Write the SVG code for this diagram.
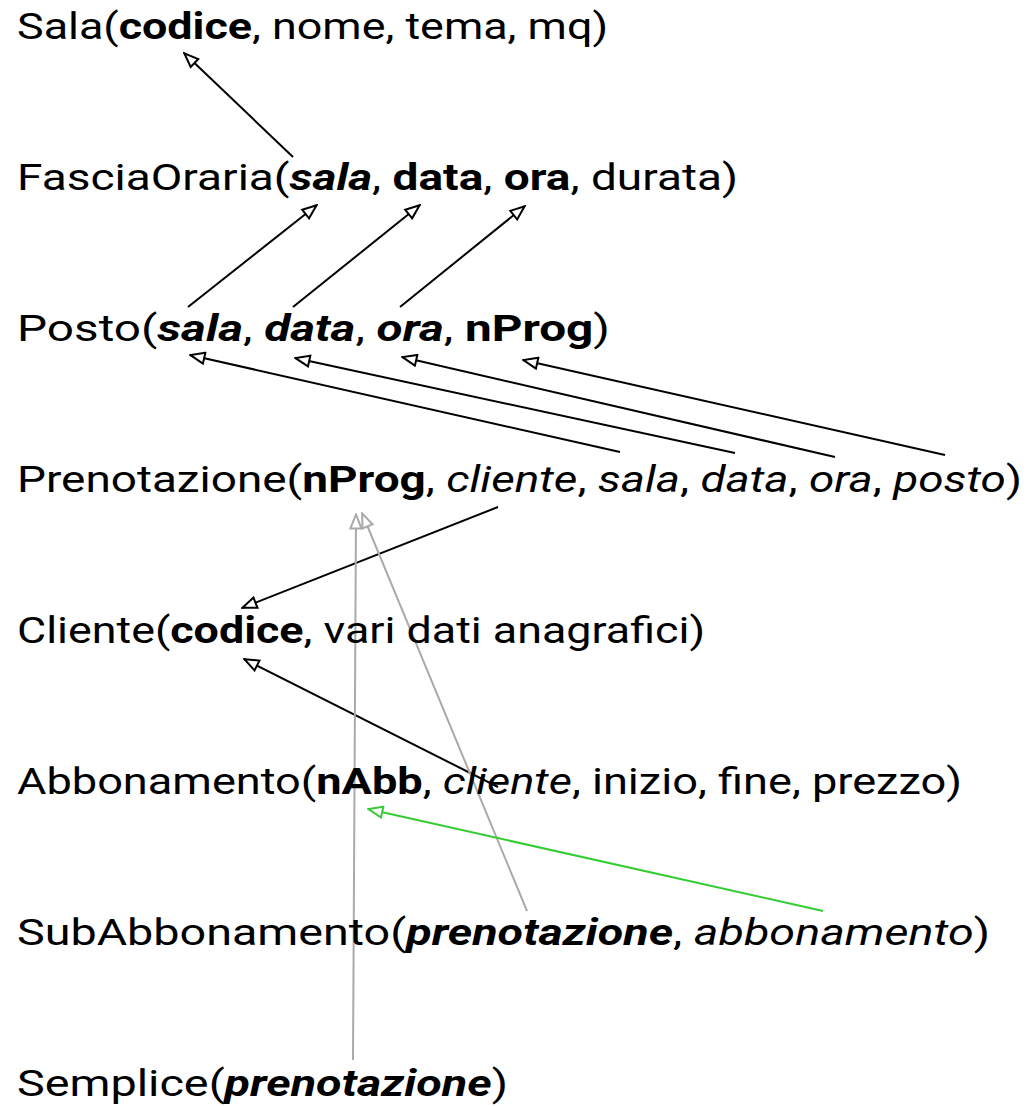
<svg xmlns="http://www.w3.org/2000/svg" width="1035" height="1106" viewBox="0 0 1035 1106">
<style>
text{font-family:Roboto,"Liberation Sans",sans-serif;font-size:36px;fill:#000}
.k{font-weight:bold}
.i{font-style:italic}
.ki{font-weight:bold;font-style:italic}
.c{stroke:#000;stroke-width:2;fill:none}
.g{stroke:#aaaaaa;stroke-width:2;fill:none}
.gr{stroke:#33cc33;stroke-width:2;fill:none}
</style>
<defs>
<marker id="a" viewBox="0 0 17 14" refX="16" refY="7" markerWidth="17" markerHeight="14" markerUnits="userSpaceOnUse" orient="auto"><path d="M1.5,1.5 L15.5,7 L1.5,12.5 z" fill="#fff" stroke="#000" stroke-width="2"/></marker>
<marker id="ag" viewBox="0 0 17 14" refX="16" refY="7" markerWidth="17" markerHeight="14" markerUnits="userSpaceOnUse" orient="auto"><path d="M1.5,1.5 L15.5,7 L1.5,12.5 z" fill="#fff" stroke="#aaaaaa" stroke-width="2"/></marker>
<marker id="agr" viewBox="0 0 17 14" refX="16" refY="7" markerWidth="17" markerHeight="14" markerUnits="userSpaceOnUse" orient="auto"><path d="M1.5,1.5 L15.5,7 L1.5,12.5 z" fill="#fff" stroke="#33cc33" stroke-width="2"/></marker>
</defs>
<g id="connectors">
<line class="c" x1="293" y1="157" x2="184" y2="53" marker-end="url(#a)"/>
<line class="c" x1="188" y1="307" x2="317" y2="205" marker-end="url(#a)"/>
<line class="c" x1="293" y1="307" x2="420" y2="205" marker-end="url(#a)"/>
<line class="c" x1="400" y1="307" x2="525" y2="206" marker-end="url(#a)"/>
<line class="c" x1="620" y1="452" x2="190" y2="355" marker-end="url(#a)"/>
<line class="c" x1="735" y1="453" x2="295" y2="358" marker-end="url(#a)"/>
<line class="c" x1="835" y1="457" x2="402" y2="357" marker-end="url(#a)"/>
<line class="c" x1="945" y1="455" x2="523" y2="360" marker-end="url(#a)"/>
<line class="c" x1="498" y1="507" x2="242" y2="608" marker-end="url(#a)"/>
<line class="c" x1="498" y1="787" x2="244" y2="659" marker-end="url(#a)"/>
<line class="g" x1="353" y1="1060" x2="356" y2="514" marker-end="url(#ag)"/>
<line class="g" x1="527" y1="911" x2="362" y2="513" marker-end="url(#ag)"/>
<line class="gr" x1="823" y1="911" x2="368" y2="809" marker-end="url(#agr)"/>
</g>
<g id="Sala"><text x="17" y="39" textLength="591" lengthAdjust="spacingAndGlyphs">Sala(<tspan class="k">codice</tspan>, nome, tema, mq)</text></g>
<g id="FasciaOraria"><text x="17" y="190" textLength="721" lengthAdjust="spacingAndGlyphs">FasciaOraria(<tspan class="ki">sala</tspan>, <tspan class="k">data</tspan>, <tspan class="k">ora</tspan>, durata)</text></g>
<g id="Posto"><text x="17" y="341" textLength="593" lengthAdjust="spacingAndGlyphs">Posto(<tspan class="ki">sala</tspan>, <tspan class="ki">data</tspan>, <tspan class="ki">ora</tspan>, <tspan class="k">nProg</tspan>)</text></g>
<g id="Prenotazione"><text x="17" y="492" textLength="1005" lengthAdjust="spacingAndGlyphs">Prenotazione(<tspan class="k">nProg</tspan>, <tspan class="i">cliente</tspan>, <tspan class="i">sala</tspan>, <tspan class="i">data</tspan>, <tspan class="i">ora</tspan>, <tspan class="i">posto</tspan>)</text></g>
<g id="Cliente"><text x="17" y="643" textLength="688" lengthAdjust="spacingAndGlyphs">Cliente(<tspan class="k">codice</tspan>, vari dati anagrafici)</text></g>
<g id="Abbonamento"><text x="17" y="794" textLength="945" lengthAdjust="spacingAndGlyphs">Abbonamento(<tspan class="k">nAbb</tspan>, <tspan class="i">cliente</tspan>, inizio, fine, prezzo)</text></g>
<g id="SubAbbonamento"><text x="17" y="945" textLength="973" lengthAdjust="spacingAndGlyphs">SubAbbonamento(<tspan class="ki">prenotazione</tspan>, <tspan class="i">abbonamento</tspan>)</text></g>
<g id="Semplice"><text x="17" y="1096" textLength="491" lengthAdjust="spacingAndGlyphs">Semplice(<tspan class="ki">prenotazione</tspan>)</text></g>
</svg>
